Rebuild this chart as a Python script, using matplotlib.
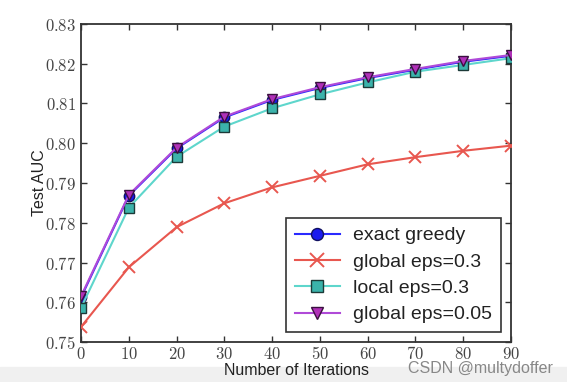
import matplotlib
matplotlib.use("Agg")
import matplotlib.pyplot as plt
from matplotlib.ticker import FuncFormatter

iterations = [0, 10, 20, 30, 40, 50, 60, 70, 80, 90]
exact_greedy = [0.7612, 0.7868, 0.7987, 0.8065, 0.8109, 0.8139, 0.8164, 0.8185, 0.8205, 0.8220]
global_eps_03 = [0.7538, 0.7688, 0.7789, 0.7849, 0.7889, 0.7918, 0.7947, 0.7965, 0.7981, 0.7994]
local_eps_03 = [0.7586, 0.7838, 0.7966, 0.8042, 0.8088, 0.8123, 0.8153, 0.8180, 0.8197, 0.8214]
global_eps_005 = [0.7615, 0.7870, 0.7989, 0.8067, 0.8111, 0.8141, 0.8166, 0.8187, 0.8207, 0.8222]
labels = ["exact greedy", "global eps=0.3", "local eps=0.3", "global eps=0.05"]
xticks = [0, 10, 20, 30, 40, 50, 60, 70, 80, 90]
yticks = [0.75, 0.76, 0.77, 0.78, 0.79, 0.80, 0.81, 0.82, 0.83]

plt.rcParams['mathtext.fontset'] = 'cm'
sans = ['Liberation Sans', 'DejaVu Sans']

fig = plt.figure(figsize=(5.67, 3.82), dpi=100)
fig.patch.set_facecolor('white')
# light gray screenshot strip at the bottom
fig.add_artist(plt.Rectangle((0, 0), 1, 0.04, transform=fig.transFigure, color='#f0f0f0', zorder=-10))
ax = fig.add_axes([0.1429, 0.1047, 0.7584, 0.8325])

ax.plot(iterations, exact_greedy, '-o', color='#2a2aff', mfc='#1a1aee', mec='#101060',
        ms=7.5, mew=1.0, lw=1.5, label=labels[0], zorder=3)
ax.plot(iterations, global_eps_03, '-x', color='#e8574f', mec='#e8574f',
        ms=9, mew=1.4, lw=1.5, label=labels[1], zorder=3)
ax.plot(iterations, local_eps_03, '-s', color='#5ed6cc', mfc='#3bb3ab', mec='#1c3a38',
        ms=7.5, mew=1.0, lw=1.5, label=labels[2], zorder=3)
ax.plot(iterations, global_eps_005, '-v', color='#b04ad8', mfc='#b030b8', mec='#3a1040',
        ms=7.5, mew=1.0, lw=1.5, label=labels[3], zorder=4)

ax.set_xlim(0, 90)
ax.set_ylim(0.75, 0.83)
ax.set_xticks(xticks)
ax.set_yticks(yticks)
ax.xaxis.set_major_formatter(FuncFormatter(lambda v, p: r'$%d$' % v))
ax.yaxis.set_major_formatter(FuncFormatter(lambda v, p: r'$%.2f$' % v))
ax.tick_params(direction='in', top=True, right=True, length=4, width=1.0,
               labelsize=12, colors='#333333', labelcolor='#444444')
ax.tick_params(axis='x', pad=2)
for s in ax.spines.values():
    s.set_linewidth(1.3)
    s.set_color('#333333')

ax.set_xlabel('Number of Iterations', fontsize=11.5, family=sans, color='#222222', labelpad=0)
ax.set_ylabel('Test AUC', fontsize=11.5, family=sans, color='#222222')
ax.yaxis.set_label_coords(-0.08, 0.5)

leg = ax.legend(loc='lower right', prop={'family': sans, 'size': 14}, fancybox=False,
                edgecolor='#333333', framealpha=1, borderpad=0.45, labelspacing=0.45,
                handlelength=2.3, handletextpad=0.7, markerscale=1.15,
                borderaxespad=0, bbox_to_anchor=(0.977, 0.031))
leg.get_frame().set_linewidth(1.2)
for t in leg.get_texts():
    t.set_color('#222222')

fig.text(0.975, 0.035, 'CSDN @multydoffer', ha='right', va='center', fontsize=11.5,
         family=sans, color='#888888')

fig.savefig('out.png', dpi=100)
